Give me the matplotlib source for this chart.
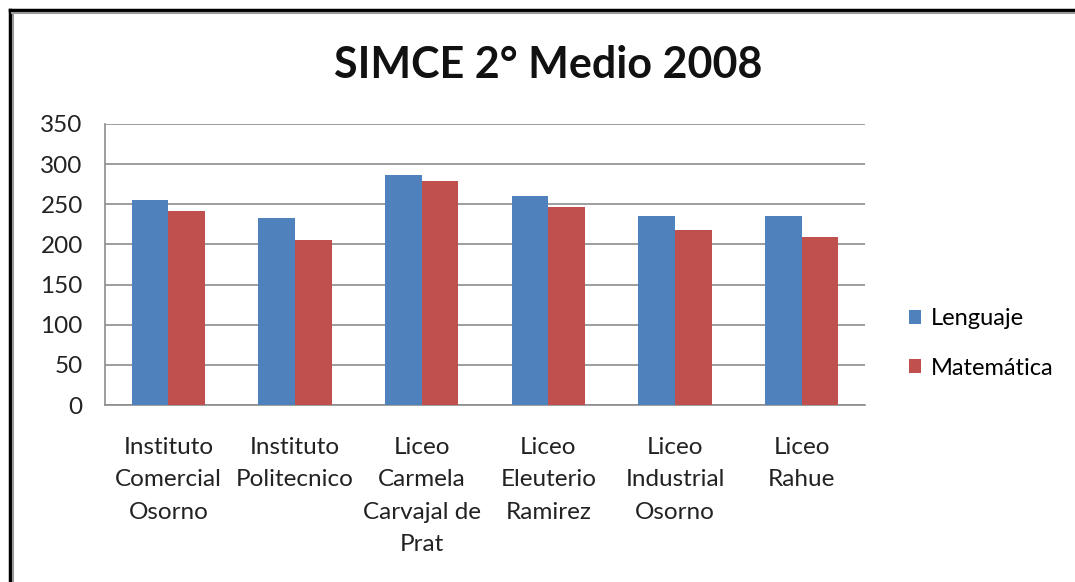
import matplotlib.pyplot as plt
import numpy as np
from matplotlib.lines import Line2D

# Data
schools = ['Instituto\nComercial\nOsorno', 'Instituto\nPolitecnico', 'Liceo\nCarmela\nCarvajal de\nPrat',
           'Liceo\nEleuterio\nRamirez', 'Liceo\nIndustrial\nOsorno', 'Liceo\nRahue']
lenguaje = [255, 233, 286, 260, 235, 235]
matematica = [242, 206, 279, 246, 218, 209]
yticks = [0, 50, 100, 150, 200, 250, 300, 350]

plt.rcParams['font.family'] = ['Lato', 'DejaVu Sans']

fig = plt.figure(figsize=(10.75, 5.82), dpi=100)
ax = fig.add_axes([0.0977, 0.3041, 0.707, 0.4829])

x = np.arange(len(schools))
w = 0.29
ax.bar(x - w / 2, lenguaje, w, color='#4F81BD', label='Lenguaje', zorder=3)
ax.bar(x + w / 2, matematica, w, color='#C0504D', label='Matemática', zorder=3)

ax.set_xlim(-0.5, len(schools) - 0.5)
ax.set_ylim(0, 350)
ax.set_yticks(yticks)
ax.set_xticks(x)
ax.set_xticklabels(schools, fontsize=17.5, linespacing=1.67, va='top', color='#222222')
ax.tick_params(axis='y', length=0, pad=16, labelsize=17.5, labelcolor='#222222')
ax.tick_params(axis='x', length=0, pad=23)
ax.grid(axis='y', color='#8c8c8c', linewidth=1.2, zorder=0)
for s in ax.spines.values():
    s.set_color('#8c8c8c')
    s.set_linewidth(1.2)
ax.spines['right'].set_visible(False)
ax.spines['top'].set_visible(False)

fig.text(0.51, 0.888, 'SIMCE 2° Medio 2008', ha='center', va='center',
         fontsize=31, fontweight='bold', color='#111111')

fig.legend(loc='center left', bbox_to_anchor=(0.826, 0.41), frameon=False,
           fontsize=17, handlelength=0.5, handleheight=0.5, handletextpad=0.4,
           labelspacing=1.2)

# outer frame (left and top edges)
H = 582
fig.add_artist(Line2D([10 / 1075, 10 / 1075], [0, 1 - 10 / H], color='black', lw=2.5,
                      transform=fig.transFigure))
fig.add_artist(Line2D([12.5 / 1075, 12.5 / 1075], [0, 1 - 12 / H], color='#999999', lw=1.5,
                      transform=fig.transFigure))
fig.add_artist(Line2D([10 / 1075, 1], [1 - 10 / H, 1 - 10 / H], color='black', lw=2.5,
                      transform=fig.transFigure))
fig.add_artist(Line2D([12 / 1075, 1], [1 - 12.5 / H, 1 - 12.5 / H], color='#999999', lw=1.5,
                      transform=fig.transFigure))

plt.savefig('out.png', dpi=100)
